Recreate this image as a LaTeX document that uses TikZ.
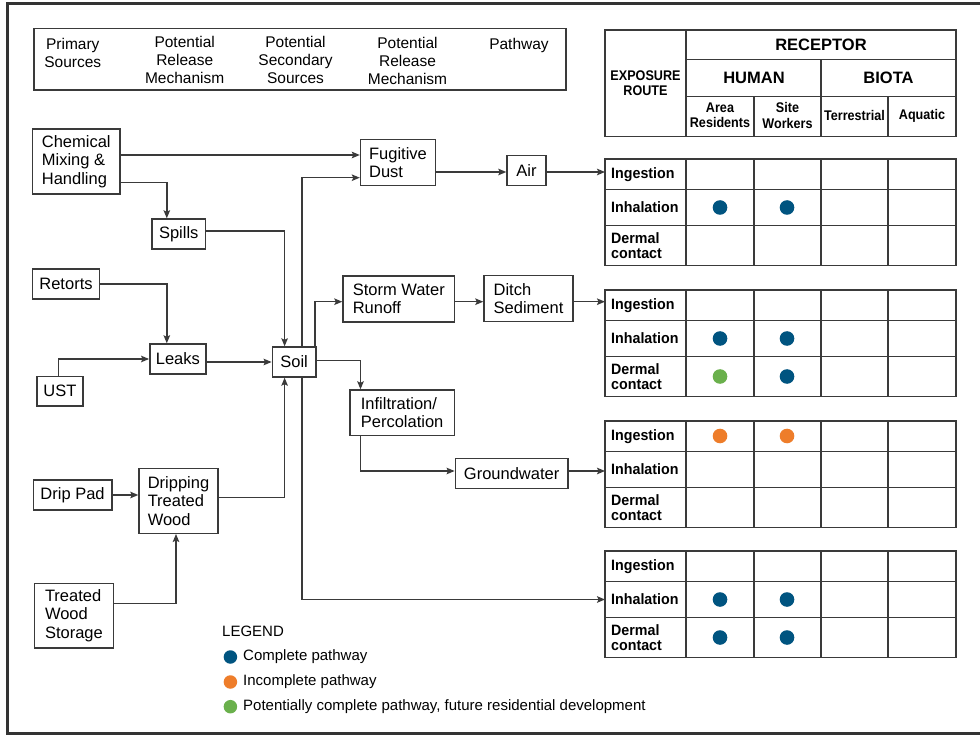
\documentclass[tikz,border=0pt]{standalone}
\usepackage{fontspec}
\setmainfont{Liberation Sans}
\newfontfamily\condfam{Liberation Sans}[FakeStretch=0.9]
\newfontfamily\rowfam{Liberation Sans}[FakeStretch=0.95]
\usetikzlibrary{arrows.meta}
\definecolor{linec}{HTML}{3A3A3A}
\definecolor{cblue}{HTML}{005480}
\definecolor{corange}{HTML}{EE7D2A}
\definecolor{cgreen}{HTML}{6AB04C}
\newcommand\bxfont{\fontsize{16.5}{18.5}\selectfont}
\newcommand\hdfont{\fontsize{15.5}{17.8}\selectfont}
\tikzset{
  fbox/.style={draw=linec, line width=1.4pt, align=left, inner sep=1pt, font=\bxfont},
  hdr/.style={align=center, inner sep=0pt, font=\hdfont, anchor=north},
  arr/.style={draw=linec, line width=1.4pt, -{Stealth[length=8pt,width=6.5pt,inset=1.5pt]}},
  tbl/.style={draw=linec, line width=1.5pt},
  rowlab/.style={anchor=west, inner sep=0pt, align=left, font=\rowfam\bfseries\fontsize{15}{15}\selectfont},
  colhd/.style={inner sep=0pt, align=center, font=\condfam\bfseries\fontsize{14}{15.2}\selectfont},
  bighd/.style={inner sep=0pt, font=\bfseries\fontsize{16.5}{18}\selectfont},
  dot/.style={circle, inner sep=0pt, minimum size=14.6pt},
  ldot/.style={circle, inner sep=0pt, minimum size=13.5pt},
  legtext/.style={anchor=west, inner sep=0pt, font=\fontsize{15}{17}\selectfont}
}
\begin{document}
\begin{tikzpicture}[x=1pt,y=-1pt]
\useasboundingbox (0,0) rectangle (980,735);
\fill[white] (0,0) rectangle (980,735);
% outer frame
\draw[line width=3pt, color=black!80] (990,4) -- (7,4) -- (7,733) -- (990,733);

% header box
\node[draw=linec, line width=1.4pt, minimum width=532pt, minimum height=61.7pt, inner sep=0pt] (hbox) at (300,59.15) {};
\node[hdr] (h1) at (72.8,38.3) {Primary\\Sources};
\node[hdr] (h2) at (184.7,36) {Potential\\Release\\Mechanism};
\node[hdr] (h3) at (295.5,36.3) {Potential\\Secondary\\Sources};
\node[hdr] (h4) at (407.5,37) {Potential\\Release\\Mechanism};
\node[hdr] (h5) at (519,38.3) {Pathway};

% receptor header table
\draw[tbl] (605,30) rectangle (956,136.5);
\draw[tbl] (686,30) -- (686,136.5);
\draw[tbl] (686,59.5) -- (956,59.5);
\draw[tbl] (686,96.5) -- (956,96.5);
\draw[tbl] (821,59.5) -- (821,136.5);
\draw[tbl] (754,96.5) -- (754,136.5);
\draw[tbl] (888,96.5) -- (888,136.5);
\node[colhd] (expo) at (645.5,83.5) {EXPOSURE\\ROUTE};
\node[bighd] (recep) at (821,45) {RECEPTOR};
\node[bighd] (human) at (754,78) {HUMAN};
\node[bighd] (biota) at (888.5,78) {BIOTA};
\node[colhd] (area) at (720,115.5) {Area\\Residents};
\node[colhd] (site) at (787.5,115.5) {Site\\Workers};
\node[colhd] (terr) at (854.5,115.5) {Terrestrial};
\node[colhd] (aqua) at (922,115.5) {Aquatic};

% exposure tables
\foreach \t [count=\i] in {159,290,421,551} {
  \draw[tbl] (605,\t) rectangle (956,\t+106.5);
  \foreach \x in {686,754,821,888} \draw[tbl] (\x,\t) -- (\x,\t+106.5);
  \draw[tbl] (605,\t+30.5) -- (956,\t+30.5);
  \draw[tbl] (605,\t+66.5) -- (956,\t+66.5);
  \node[rowlab] (ing\i) at (611,\t+15.5) {Ingestion};
  \node[rowlab] (inh\i) at (611,\t+48.5) {Inhalation};
  \node[rowlab] (der\i) at (611,\t+86.5) {Dermal\\contact};
}
% dots
\node[dot, fill=cblue] (d1a) at (720,207.5) {};
\node[dot, fill=cblue] (d1b) at (787,207.5) {};
\node[dot, fill=cblue] (d2a) at (720,338.5) {};
\node[dot, fill=cblue] (d2b) at (787,338.5) {};
\node[dot, fill=cgreen] (d2c) at (720,376.5) {};
\node[dot, fill=cblue] (d2d) at (787,376.5) {};
\node[dot, fill=corange] (d3a) at (720,436) {};
\node[dot, fill=corange] (d3b) at (787,436) {};
\node[dot, fill=cblue] (d4a) at (720,599.5) {};
\node[dot, fill=cblue] (d4b) at (787,599.5) {};
\node[dot, fill=cblue] (d4c) at (720,637.5) {};
\node[dot, fill=cblue] (d4d) at (787,637.5) {};

% flow boxes
\node[fbox, minimum width=87.5pt, minimum height=65pt] (chem) at (76.25,161.5) {Chemical\\Mixing \&\\Handling};
\node[fbox, minimum width=53.5pt, minimum height=30pt] (spills) at (178.75,234) {Spills};
\node[fbox, minimum width=67.2pt, minimum height=30pt] (retorts) at (66,284) {Retorts};
\node[fbox, minimum width=56.2pt, minimum height=30pt] (leaks) at (177.9,359) {Leaks};
\node[fbox, minimum width=46.2pt, minimum height=29.3pt] (ust) at (59.9,391.3) {UST};
\node[fbox, minimum width=43.7pt, minimum height=30pt] (soil) at (294.15,362) {Soil};
\node[fbox, minimum width=78.7pt, minimum height=30pt] (drip) at (72.55,495) {Drip Pad};
\node[fbox, minimum width=79pt, minimum height=64.6pt] (dripping) at (178.5,501) {Dripping\\Treated\\Wood};
\node[fbox, minimum width=79pt, minimum height=64.7pt] (storage) at (73.9,615.65) {Treated\\Wood\\Storage};
\node[fbox, minimum width=75pt, minimum height=46.4pt] (fug) at (398,162.5) {Fugitive\\Dust};
\node[fbox, minimum width=39pt, minimum height=30pt] (air) at (526.5,170.5) {Air};
\node[fbox, minimum width=111.5pt, minimum height=46pt] (storm) at (398.75,299) {Storm Water\\Runoff};
\node[fbox, minimum width=89pt, minimum height=46pt] (ditch) at (528.5,298.7) {Ditch\\Sediment};
\node[fbox, minimum width=104.7pt, minimum height=45.7pt] (infil) at (402.15,412.85) {Infiltration/\\Percolation};
\node[fbox, minimum width=112.7pt, minimum height=29.6pt] (ground) at (511.65,473.5) {Groundwater};

% helper coordinates
\coordinate (v302) at (302,0);
\coordinate (v315) at (315,0);
\coordinate (v285) at (284.6,0);
\coordinate (v167) at (166.8,0);
\coordinate (v58) at (58.5,0);
\coordinate (v360) at (360.5,0);
\coordinate (v176) at (176,0);
\coordinate (y155) at (0,155);
\coordinate (y178) at (0,177.7);
\coordinate (y182) at (0,182.3);
\coordinate (y231) at (0,231);
\coordinate (y172) at (0,172);
\coordinate (y302) at (0,301.7);
\coordinate (y361) at (0,360.7);
\coordinate (y497) at (0,497.3);
\coordinate (y603) at (0,603.3);
\coordinate (y471) at (0,471);
\coordinate (T1) at (605,172);
\coordinate (T2) at (605,301.7);
\coordinate (T3) at (605,471);
\coordinate (T4) at (605,599.5);

% connectors
\draw[arr] (chem.east |- y155) -- (fug.west |- y155);
\draw[arr] (soil.north -| v302) |- (fug.west |- y178);
\draw[arr] (chem.east |- y182) -| (spills.north -| v167);
\draw[arr] (spills.east |- y231) -| (soil.north -| v285);
\draw[arr] (retorts.east) -| (leaks.north -| v167);
\draw[arr] (ust.north -| v58) |- (leaks.west);
\draw[arr] (leaks.east |- soil.west) -- (soil.west);
\draw[arr] (soil.east |- y361) -| (infil.north -| v360);
\draw[arr] (soil.north -| v315) |- (storm.west |- y302);
\draw[arr] (soil.south -| v302) |- (T4);
\draw[arr] (drip.east) -- (dripping.west |- drip.east);
\draw[arr] (dripping.east |- y497) -| (soil.south -| v285);
\draw[arr] (storage.east |- y603) -| (dripping.south -| v176);
\draw[arr] (fug.east |- y172) -- (air.west |- y172);
\draw[arr] (air.east |- y172) -- (T1);
\draw[arr] (storm.east |- y302) -- (ditch.west |- y302);
\draw[arr] (ditch.east |- y302) -- (T2);
\draw[arr] (infil.south -| v360) |- (ground.west |- y471);
\draw[arr] (ground.east |- y471) -- (T3);

% legend
\node[anchor=west, inner sep=0pt, font=\fontsize{15}{17}\selectfont] (legend) at (222,631) {LEGEND};
\node[ldot, fill=cblue] (l1) at (230.4,657) {};
\node[ldot, fill=corange] (l2) at (230.4,682) {};
\node[ldot, fill=cgreen] (l3) at (230.4,706.7) {};
\node[legtext] (lt1) at (243,657) {Complete pathway};
\node[legtext] (lt2) at (243,682) {Incomplete pathway};
\node[legtext] (lt3) at (243,706.7) {Potentially complete pathway, future residential development};
\end{tikzpicture}
\end{document}
